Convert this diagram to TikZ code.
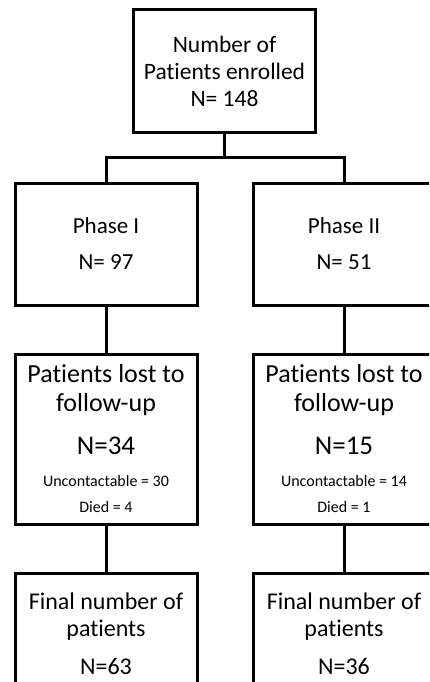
\documentclass[tikz,border=0pt]{standalone}
\usepackage{fontspec}
\setmainfont{Carlito}[Ligatures=CommonOff]
\usetikzlibrary{calc, positioning}
\tikzset{flowbox/.style={draw, line width=3pt, align=center, minimum width=182pt, minimum height=122pt, inner sep=0pt}}
\tikzset{lostbox/.style={flowbox, minimum height=170pt, font=\fontsize{26}{29}\selectfont}}
\tikzset{link/.style={line width=3pt}}

\begin{document}
\begin{tikzpicture}[x=1pt, y=1pt, node distance=46pt and 53pt]
	\useasboundingbox (0,0) rectangle (429,-682);
	\clip (0,0) rectangle (429,-682);
	% Nodes
		\node (enrolled) [flowbox, font=\fontsize{23.5}{27}\selectfont] at (224.5,-71) {Number of\\ Patients enrolled\\ N= 148};
		
		\node (phaseone) [flowbox, font=\fontsize{23}{36}\selectfont, below=48pt of enrolled, xshift=-118.5pt] {Phase I\\ N= 97};
		\node (phasetwo) [flowbox, font=\fontsize{23}{36}\selectfont, right=of phaseone] {Phase II\\ N= 51};
		
		\node (lostone) [lostbox, below=of phaseone] {Patients lost to\\ follow-up\\[14pt] {\fontsize{27}{29}\selectfont N=34}\\[3pt] {\fontsize{16}{29}\selectfont Uncontactable = 30}\\[-3pt] {\fontsize{16}{29}\selectfont Died = 4}};
		\node (losttwo) [lostbox, below=of phasetwo] {Patients lost to\\ follow-up\\[14pt] {\fontsize{27}{29}\selectfont N=15}\\[3pt] {\fontsize{16}{29}\selectfont Uncontactable = 14}\\[-3pt] {\fontsize{16}{29}\selectfont Died = 1}};
		
		\node (finalone) [flowbox, font=\fontsize{24}{27}\selectfont, below=of lostone] {Final number of\\ patients\\[11pt] N=63};
		\node (finaltwo) [flowbox, font=\fontsize{24}{27}\selectfont, below=of losttwo] {Final number of\\ patients\\[11pt] N=36};
		
		\coordinate (fork) at ($(enrolled.south)!.5!(enrolled.south |- phaseone.north)$);
		
		% Connectors
		\begin{scope}[link]
		\draw (enrolled) -- (fork);
		\draw (phaseone) |- (fork) -| (phasetwo);
		\draw (phaseone) -- (lostone);
		\draw (phasetwo) -- (losttwo);
		\draw (lostone) -- (finalone);
		\draw (losttwo) -- (finaltwo);
		\end{scope}

\end{tikzpicture}
\end{document}
